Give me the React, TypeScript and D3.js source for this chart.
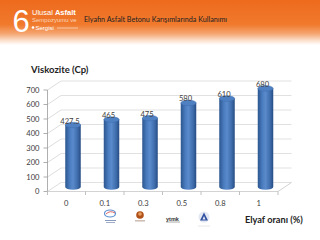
import React from 'react';
import * as d3 from 'd3';

const categories = ['0', '0.1', '0.3', '0.5', '0.8', '1'];
const viscosity = [427.5, 465, 475, 580, 610, 680];
const yTicks = [0, 100, 200, 300, 400, 500, 600, 700];

const FONT = 'Lato, "Open Sans", sans-serif';

const App = () => {
  const width = 320, height = 240;
  // 3D depth offset of the chart box
  const dx = 13.5, dy = -9;

  const x = d3.scaleBand<string>()
    .domain(categories)
    .range([47, 278])
    .paddingInner(0)
    .paddingOuter(0);

  const y = d3.scaleLinear()
    .domain([0, 700])
    .range([191.5, 90]);

  const barW = 15.5;
  const ry = 2.8;

  return (
    <svg width={width} height={height} style={{ position: 'absolute', left: 0, top: 0 }}>
      <defs>
        <linearGradient id="hdr" x1="0" y1="0" x2="0" y2="1">
          <stop offset="0" stopColor="#EE6A1D" />
          <stop offset="0.55" stopColor="#F07A2D" />
          <stop offset="0.75" stopColor="#F5A672" />
          <stop offset="0.9" stopColor="#FBE0CD" />
          <stop offset="1" stopColor="#FFFFFF" />
        </linearGradient>
        <linearGradient id="cyl" x1="0" y1="0" x2="1" y2="0">
          <stop offset="0" stopColor="#2C568F" />
          <stop offset="0.3" stopColor="#4A7DC0" />
          <stop offset="0.5" stopColor="#5A8ACB" />
          <stop offset="0.8" stopColor="#3E6CAB" />
          <stop offset="1" stopColor="#264C82" />
        </linearGradient>
      </defs>

      <rect width={width} height={height} fill="#fff" />
      {/* header band */}
      <rect x={0} y={0} width={width} height={45} fill="url(#hdr)" />
      <text x={12.5} y={32} fontFamily="Liberation Sans, Arial" fontSize={31} fill="#fff">6</text>
      <text x={32} y={15} fontFamily="Liberation Sans, Arial" fontSize={7.5} fill="#fff">
        Ulusal <tspan fontWeight="bold">Asfalt</tspan>
      </text>
      <text x={32} y={22} fontFamily="Liberation Sans, Arial" fontSize={6} fill="#FBD6BA">Sempozyumu ve</text>
      <circle cx={33} cy={27.5} r={1.3} fill="#fff" />
      <text x={35.5} y={29.5} fontFamily="Liberation Sans, Arial" fontSize={6} fill="#fff">Sergisi</text>
      <line x1={57} y1={28} x2={78} y2={28} stroke="#FBD6BA" strokeWidth={0.8} />
      <text x={84} y={21.5} fontFamily={FONT} fontSize={7.2} fill="#222">
        Elyafın Asfalt Betonu Karışımlarında Kullanımı
      </text>

      {/* chart title */}
      <text x={31} y={72.5} fontFamily={FONT} fontSize={9.5} fontWeight="bold" fill="#222">Viskozite (Cp)</text>

      {/* gridlines: side diagonal + back wall */}
      {yTicks.map(t => (
        <g key={t}>
          <line x1={47.5} y1={y(t)} x2={47.5 + dx} y2={y(t) + dy} stroke="#D4D4D4" strokeWidth={0.8} />
          <line x1={47.5 + dx} y1={y(t) + dy} x2={278 + dx} y2={y(t) + dy} stroke="#D9D9D9" strokeWidth={0.8} />
          <line x1={43.5} y1={y(t)} x2={47.5} y2={y(t)} stroke="#9A9A9A" strokeWidth={0.8} />
          <text x={39.5} y={y(t) + 2.8} textAnchor="end" fontFamily={FONT} fontSize={7.6} fill="#404040">{t}</text>
        </g>
      ))}

      {/* floor right edge */}
      <line x1={278} y1={y(0)} x2={278 + dx} y2={y(0) + dy} stroke="#C8C8C8" strokeWidth={0.8} />
      {/* axes */}
      <line x1={47.5} y1={y(700)} x2={47.5} y2={y(0)} stroke="#9A9A9A" strokeWidth={0.8} />
      <line x1={47.5} y1={y(0)} x2={278} y2={y(0)} stroke="#C8C8C8" strokeWidth={0.8} />
      {categories.map(c => (
        <line key={'tk' + c} x1={x(c)! + x.bandwidth()} y1={y(0)} x2={x(c)! + x.bandwidth()} y2={y(0) + 3.5}
          stroke="#B0B0B0" strokeWidth={0.8} />
      ))}
      <line x1={47.5} y1={y(0)} x2={47.5} y2={y(0) + 3.5} stroke="#B0B0B0" strokeWidth={0.8} />

      {/* cylinders */}
      {viscosity.map((v, i) => {
        const c = categories[i];
        const cx = x(c)! + x.bandwidth() / 2 + dx / 2;
        const base = y(0) + dy / 2;
        const top = y(v) + dy / 2;
        return (
          <g key={c}>
            <path
              d={`M${cx - barW / 2},${top} L${cx - barW / 2},${base} A${barW / 2},${ry} 0 0 0 ${cx + barW / 2},${base} L${cx + barW / 2},${top} Z`}
              fill="url(#cyl)" />
            <ellipse cx={cx} cy={top} rx={barW / 2} ry={ry} fill="#4F80C2" stroke="#3A68A8" strokeWidth={0.4} />
            <text x={cx - 3} y={top - 1.5} textAnchor="middle" fontFamily={FONT} fontSize={7.6} fill="#404040">{v}</text>
          </g>
        );
      })}

      {/* x labels */}
      {categories.map(c => (
        <text key={'xl' + c} x={x(c)! + x.bandwidth() / 2} y={206} textAnchor="middle"
          fontFamily={FONT} fontSize={7.6} fill="#404040">{c}</text>
      ))}

      {/* footer logos */}
      <g>
        <ellipse cx={110} cy={213.5} rx={5.5} ry={3.5} fill="none" stroke="#5B8FD0" strokeWidth={1.2} />
        <path d="M106,214 Q110,210 115,213" fill="none" stroke="#D04040" strokeWidth={0.8} />
        <rect x={105} y={220} width={11} height={1} fill="#8899BB" />
        <rect x={106} y={222} width={9} height={0.8} fill="#8899BB" />
        <circle cx={140} cy={215} r={3.8} fill="#B0501A" />
        <circle cx={140} cy={214} r={1.8} fill="#E8A060" />
        <rect x={135} y={220.5} width={10} height={0.8} fill="#A08070" />
        <text x={166} y={221} fontFamily="Liberation Sans, Arial" fontSize={5.5} fontWeight="bold" fill="#333">ytmk</text>
        <line x1={166} y1={222} x2={180} y2={222} stroke="#555" strokeWidth={0.5} />
        <circle cx={204} cy={217} r={5.5} fill="#E4E8F2" />
        <path d="M204,212.5 L208,220.5 L200,220.5 Z" fill="#2F50A0" />
        <path d="M204,216 L205.5,219.5 L202.5,219.5 Z" fill="#E4E8F2" />
        <line x1={198} y1={226} x2={210} y2={226} stroke="#CCCCCC" strokeWidth={0.5} />
      </g>

      <text x={245} y={222.5} fontFamily={FONT} fontSize={9.2} fontWeight="bold" fill="#222">Elyaf oranı (%)</text>
    </svg>
  );
};

export default App;
